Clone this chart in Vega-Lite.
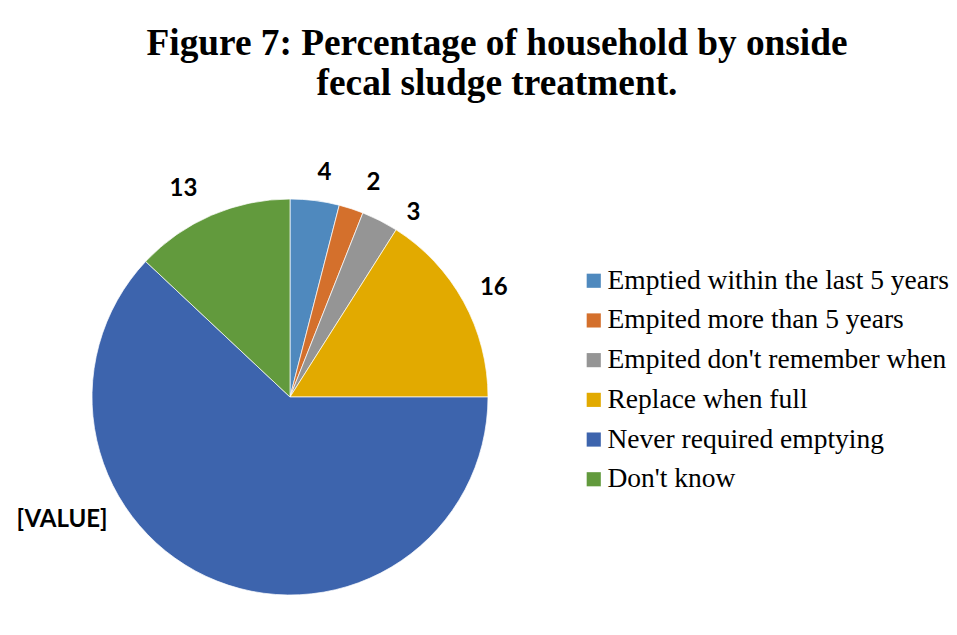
{
  "$schema": "https://vega.github.io/schema/vega-lite/v6.json",
  "autosize": "none",
  "width": 396,
  "height": 396,
  "padding": {"left": 92, "top": 199, "right": 469, "bottom": 40},
  "background": "white",
  "title": {
    "text": ["Figure 7: Percentage of household by onside", "fecal sludge treatment."],
    "font": "Liberation Serif",
    "fontSize": 37.3,
    "fontWeight": "bold",
    "color": "#000000",
    "anchor": "middle",
    "frame": "group",
    "dx": 207,
    "offset": -34,
    "lineHeight": 40
  },
  "data": {
    "values": [
      {"i": 1, "cat": "Emptied within the last 5 years", "value": 4},
      {"i": 2, "cat": "Empited more than 5 years", "value": 2},
      {"i": 3, "cat": "Empited don't remember when", "value": 3},
      {"i": 4, "cat": "Replace when full", "value": 16},
      {"i": 5, "cat": "Never required emptying", "value": 62},
      {"i": 6, "cat": "Don't know", "value": 13}
    ]
  },
  "config": {
    "view": {"stroke": null},
    "legend": {
      "orient": "none",
      "legendX": 488,
      "legendY": 68,
      "title": null,
      "labelFont": "Liberation Serif",
      "labelFontSize": 27.5,
      "labelColor": "#000000",
      "labelLimit": 400,
      "symbolType": "square",
      "symbolSize": 200,
      "symbolStrokeWidth": 0,
      "rowPadding": 10.7,
      "labelOffset": 0
    }
  },
  "layer": [
    {
      "mark": {"type": "arc", "stroke": "white", "strokeWidth": 0.7},
      "encoding": {
        "theta": {"field": "value", "type": "quantitative", "stack": true},
        "order": {"field": "i", "type": "quantitative"},
        "color": {
          "field": "cat",
          "type": "nominal",
          "sort": null,
          "scale": {
            "domain": ["Emptied within the last 5 years", "Empited more than 5 years", "Empited don't remember when", "Replace when full", "Never required emptying", "Don't know"],
            "range": ["#4f89be", "#d4702c", "#959595", "#e2aa00", "#3d64ad", "#629a3d"]
          },
          "legend": {"title": null}
        }
      }
    },
    {
      "mark": {"type": "text", "radius": 228, "dx": 6, "dy": 2, "font": "Lato", "fontWeight": "bold", "fontSize": 24, "color": "#000000"},
      "encoding": {
        "theta": {"field": "value", "type": "quantitative", "stack": true},
        "order": {"field": "i", "type": "quantitative"},
        "detail": {"field": "cat", "type": "nominal"},
        "text": {"condition": {"test": "datum.i == 1", "field": "value", "type": "quantitative"}, "value": ""}
      }
    },
    {
      "mark": {"type": "text", "radius": 228, "dx": 13, "dy": 3, "font": "Lato", "fontWeight": "bold", "fontSize": 24, "color": "#000000"},
      "encoding": {
        "theta": {"field": "value", "type": "quantitative", "stack": true},
        "order": {"field": "i", "type": "quantitative"},
        "detail": {"field": "cat", "type": "nominal"},
        "text": {"condition": {"test": "datum.i == 2", "field": "value", "type": "quantitative"}, "value": ""}
      }
    },
    {
      "mark": {"type": "text", "radius": 228, "dx": 20, "dy": 19, "font": "Lato", "fontWeight": "bold", "fontSize": 24, "color": "#000000"},
      "encoding": {
        "theta": {"field": "value", "type": "quantitative", "stack": true},
        "order": {"field": "i", "type": "quantitative"},
        "detail": {"field": "cat", "type": "nominal"},
        "text": {"condition": {"test": "datum.i == 3", "field": "value", "type": "quantitative"}, "value": ""}
      }
    },
    {
      "mark": {"type": "text", "radius": 228, "dx": 4, "dy": 1, "font": "Lato", "fontWeight": "bold", "fontSize": 24, "color": "#000000"},
      "encoding": {
        "theta": {"field": "value", "type": "quantitative", "stack": true},
        "order": {"field": "i", "type": "quantitative"},
        "detail": {"field": "cat", "type": "nominal"},
        "text": {"condition": {"test": "datum.i == 4", "field": "value", "type": "quantitative"}, "value": ""}
      }
    },
    {
      "mark": {"type": "text", "radius": 228, "dx": -144, "dy": -89, "font": "Lato", "fontWeight": "bold", "fontSize": 24, "color": "#000000"},
      "encoding": {
        "theta": {"field": "value", "type": "quantitative", "stack": true},
        "order": {"field": "i", "type": "quantitative"},
        "detail": {"field": "cat", "type": "nominal"},
        "text": {"condition": {"test": "datum.i == 5", "value": "[VALUE]"}, "value": ""}
      }
    },
    {
      "mark": {"type": "text", "radius": 228, "dx": -16, "dy": 1, "font": "Lato", "fontWeight": "bold", "fontSize": 24, "color": "#000000"},
      "encoding": {
        "theta": {"field": "value", "type": "quantitative", "stack": true},
        "order": {"field": "i", "type": "quantitative"},
        "detail": {"field": "cat", "type": "nominal"},
        "text": {"condition": {"test": "datum.i == 6", "field": "value", "type": "quantitative"}, "value": ""}
      }
    }
  ]
}
